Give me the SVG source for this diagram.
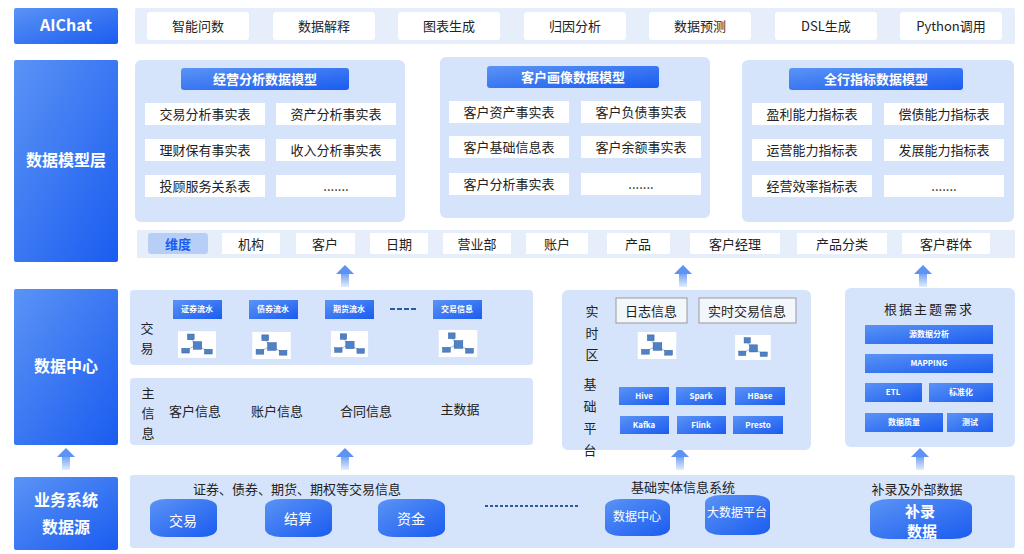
<svg xmlns="http://www.w3.org/2000/svg" xmlns:xlink="http://www.w3.org/1999/xlink" width="1024" height="554" viewBox="0 0 1024 554">
<defs>
<linearGradient id="bg" x1="0" y1="0" x2="1" y2="1"><stop offset="0" stop-color="#5b93f5"/><stop offset="1" stop-color="#1a5cf0"/></linearGradient>
<linearGradient id="ar" x1="0" y1="1" x2="0" y2="0"><stop offset="0" stop-color="#e3edfc"/><stop offset="1" stop-color="#6f9ef2"/></linearGradient>
<symbol id="net" viewBox="0 0 40 28">
<rect width="40" height="28" fill="#fff"/>
<g stroke="#8aa3c8" stroke-width="0.8"><line x1="13" y1="7" x2="18" y2="14"/><line x1="20" y1="14" x2="9" y2="20"/><line x1="22" y1="16" x2="31" y2="21"/></g>
<g fill="#4f81c7" stroke="#2e5f9f" stroke-width="0.5"><rect x="10" y="3" width="7" height="6"/><rect x="16" y="11" width="9" height="8"/><rect x="4" y="18" width="8" height="5"/><rect x="28" y="19" width="8" height="5"/></g>
</symbol>
<g id="arrow"><rect x="-4" y="8" width="8" height="14" fill="url(#ar)"/><polygon points="-9,9 0,0 9,9" fill="#5f93f3"/></g>
</defs>
<style>
.t{font-family:"Noto Sans CJK SC","Liberation Sans",sans-serif;}
.side{fill:url(#bg);}
.sideT{fill:#fff;font-size:16px;font-weight:bold;text-anchor:middle;}
.panel{fill:#d6e4fb;}
.outer{fill:#e6eefc;}
.wchip{fill:#fff;}
.wT{fill:#222;font-size:13px;text-anchor:middle;}
.bchip{fill:url(#bg);}
.bT{fill:#fff;font-size:8px;font-weight:bold;text-anchor:middle;}
.hT{fill:#fff;font-size:13px;font-weight:bold;text-anchor:middle;}
.dT{fill:#222;font-size:13px;text-anchor:middle;}
.cyl{fill:url(#bg);}
</style>
<rect width="1024" height="554" fill="#fff"/>

<g id="aichat"><rect class="side" x="14" y="8" width="104" height="36" rx="2"/><text class="t sideT" x="66" y="31">AIChat</text></g>
<g id="model-layer"><rect class="side" x="14" y="60" width="104" height="202" rx="2"/><text class="t sideT" x="66" y="166">数据模型层</text></g>
<g id="data-center"><rect class="side" x="14" y="289" width="104" height="156" rx="2"/><text class="t sideT" x="66" y="372">数据中心</text></g>
<g id="source"><rect class="side" x="14" y="477" width="104" height="73" rx="2"/><text class="t sideT" x="66" y="506">业务系统</text><text class="t sideT" x="66" y="533">数据源</text></g>

<g id="top-bar">
<rect class="outer" x="135" y="8" width="880" height="36" rx="2"/>
<g class="t">
<rect class="wchip" x="147" y="12" width="102" height="28" rx="3"/><text class="wT" x="198" y="31">智能问数</text>
<rect class="wchip" x="273" y="12" width="102" height="28" rx="3"/><text class="wT" x="324" y="31">数据解释</text>
<rect class="wchip" x="398" y="12" width="102" height="28" rx="3"/><text class="wT" x="449" y="31">图表生成</text>
<rect class="wchip" x="524" y="12" width="102" height="28" rx="3"/><text class="wT" x="575" y="31">归因分析</text>
<rect class="wchip" x="649" y="12" width="102" height="28" rx="3"/><text class="wT" x="700" y="31">数据预测</text>
<rect class="wchip" x="775" y="12" width="102" height="28" rx="3"/><text class="wT" x="826" y="31">DSL生成</text>
<rect class="wchip" x="900" y="12" width="102" height="28" rx="3"/><text class="wT" x="951" y="31">Python调用</text>
</g></g>

<g id="model1" class="t">
<rect class="panel" x="135" y="60" width="270" height="162" rx="6"/>
<rect class="bchip" x="181" y="68" width="168" height="22" rx="3"/><text class="hT" x="265" y="84">经营分析数据模型</text>
<rect class="wchip" x="145" y="103" width="120" height="22"/><text class="wT" x="205" y="119">交易分析事实表</text>
<rect class="wchip" x="276" y="103" width="120" height="22"/><text class="wT" x="336" y="119">资产分析事实表</text>
<rect class="wchip" x="145" y="139" width="120" height="22"/><text class="wT" x="205" y="155">理财保有事实表</text>
<rect class="wchip" x="276" y="139" width="120" height="22"/><text class="wT" x="336" y="155">收入分析事实表</text>
<rect class="wchip" x="145" y="175" width="120" height="22"/><text class="wT" x="205" y="191">投顾服务关系表</text>
<rect class="wchip" x="276" y="175" width="120" height="22"/><text class="wT" x="336" y="191">.......</text>
</g>
<g id="model2" class="t">
<rect class="panel" x="440" y="57" width="270" height="161" rx="6"/>
<rect class="bchip" x="487" y="66" width="172" height="22" rx="3"/><text class="hT" x="573" y="82">客户画像数据模型</text>
<rect class="wchip" x="449" y="101" width="120" height="22"/><text class="wT" x="509" y="117">客户资产事实表</text>
<rect class="wchip" x="581" y="101" width="120" height="22"/><text class="wT" x="641" y="117">客户负债事实表</text>
<rect class="wchip" x="449" y="136" width="120" height="22"/><text class="wT" x="509" y="152">客户基础信息表</text>
<rect class="wchip" x="581" y="136" width="120" height="22"/><text class="wT" x="641" y="152">客户余额事实表</text>
<rect class="wchip" x="449" y="173" width="120" height="22"/><text class="wT" x="509" y="189">客户分析事实表</text>
<rect class="wchip" x="581" y="173" width="120" height="22"/><text class="wT" x="641" y="189">.......</text>
</g>
<g id="model3" class="t">
<rect class="panel" x="742" y="60" width="272" height="162" rx="6"/>
<rect class="bchip" x="789" y="68" width="174" height="22" rx="3"/><text class="hT" x="876" y="84">全行指标数据模型</text>
<rect class="wchip" x="752" y="103" width="120" height="22"/><text class="wT" x="812" y="119">盈利能力指标表</text>
<rect class="wchip" x="884" y="103" width="120" height="22"/><text class="wT" x="944" y="119">偿债能力指标表</text>
<rect class="wchip" x="752" y="139" width="120" height="22"/><text class="wT" x="812" y="155">运营能力指标表</text>
<rect class="wchip" x="884" y="139" width="120" height="22"/><text class="wT" x="944" y="155">发展能力指标表</text>
<rect class="wchip" x="752" y="175" width="120" height="22"/><text class="wT" x="812" y="191">经营效率指标表</text>
<rect class="wchip" x="884" y="175" width="120" height="22"/><text class="wT" x="944" y="191">.......</text>
</g>

<g id="dimensions" class="t">
<rect class="outer" x="137" y="230" width="878" height="28"/>
<rect x="148" y="233" width="60" height="21" rx="3" fill="#b7cff7"/><text x="178" y="249" fill="#1a5cf0" font-size="13" font-weight="bold" text-anchor="middle">维度</text>
<rect class="wchip" x="222" y="233" width="58" height="21"/><text class="wT" x="251" y="249">机构</text>
<rect class="wchip" x="296" y="233" width="59" height="21"/><text class="wT" x="325" y="249">客户</text>
<rect class="wchip" x="370" y="233" width="58" height="21"/><text class="wT" x="399" y="249">日期</text>
<rect class="wchip" x="443" y="233" width="68" height="21"/><text class="wT" x="477" y="249">营业部</text>
<rect class="wchip" x="526" y="233" width="62" height="21"/><text class="wT" x="557" y="249">账户</text>
<rect class="wchip" x="607" y="233" width="63" height="21"/><text class="wT" x="638" y="249">产品</text>
<rect class="wchip" x="690" y="233" width="90" height="21"/><text class="wT" x="735" y="249">客户经理</text>
<rect class="wchip" x="797" y="233" width="90" height="21"/><text class="wT" x="842" y="249">产品分类</text>
<rect class="wchip" x="902" y="233" width="88" height="21"/><text class="wT" x="946" y="249">客户群体</text>
</g>

<g id="connectors">
<use href="#arrow" x="345" y="265"/><use href="#arrow" x="683" y="265"/><use href="#arrow" x="923" y="265"/>
<use href="#arrow" x="66" y="448"/><use href="#arrow" x="345" y="448"/><use href="#arrow" x="680" y="448"/><use href="#arrow" x="920" y="448"/>
</g>

<g id="trade" class="t">
<rect class="panel" x="130" y="290" width="403" height="75" rx="4"/>
<text class="dT" x="147" y="333">交</text><text class="dT" x="147" y="353">易</text>
<rect class="bchip" x="173" y="300" width="49" height="19"/><text class="bT" x="197" y="312">证券流水</text>
<rect class="bchip" x="249" y="300" width="49" height="19"/><text class="bT" x="273" y="312">债券流水</text>
<rect class="bchip" x="325" y="300" width="49" height="19"/><text class="bT" x="349" y="312">期货流水</text>
<line x1="390" y1="309" x2="418" y2="309" stroke="#2a5a9a" stroke-width="2" stroke-dasharray="5,2"/>
<rect class="bchip" x="433" y="300" width="49" height="19"/><text class="bT" x="457" y="312">交易信息</text>
<use href="#net" x="178" y="331" width="38" height="27"/>
<use href="#net" x="251" y="332" width="41" height="27"/>
<use href="#net" x="329" y="331" width="41" height="26"/>
<use href="#net" x="432" y="330" width="52" height="27"/>
</g>
<g id="master" class="t">
<rect class="panel" x="130" y="378" width="403" height="67" rx="4"/>
<text class="dT" x="148" y="398">主</text><text class="dT" x="148" y="418">信</text><text class="dT" x="148" y="438">息</text>
<text class="dT" x="195" y="416">客户信息</text><text class="dT" x="277" y="416">账户信息</text><text class="dT" x="366" y="416">合同信息</text><text class="dT" x="460" y="414">主数据</text>
</g>
<g id="realtime" class="t">
<rect class="panel" x="562" y="290" width="249" height="160" rx="6"/>
<text class="dT" x="592" y="316">实</text><text class="dT" x="592" y="338">时</text><text class="dT" x="592" y="359">区</text>
<rect x="616" y="298" width="71" height="25" fill="#f3f6fb" stroke="#999" stroke-width="1"/><text class="dT" x="651" y="316">日志信息</text>
<rect x="699" y="298" width="97" height="25" fill="#f3f6fb" stroke="#999" stroke-width="1"/><text class="dT" x="747" y="316">实时交易信息</text>
<use href="#net" x="631" y="332" width="52" height="27"/>
<use href="#net" x="727" y="335" width="52" height="25"/>
<text class="dT" x="590" y="389">基</text><text class="dT" x="590" y="411">础</text><text class="dT" x="590" y="433">平</text><text class="dT" x="590" y="455">台</text>
<rect class="bchip" x="619" y="387" width="50" height="18"/><text class="bT" x="644" y="399">Hive</text>
<rect class="bchip" x="676" y="387" width="50" height="18"/><text class="bT" x="701" y="399">Spark</text>
<rect class="bchip" x="735" y="387" width="50" height="18"/><text class="bT" x="760" y="399">HBase</text>
<rect class="bchip" x="620" y="416" width="49" height="18"/><text class="bT" x="644" y="428">Kafka</text>
<rect class="bchip" x="677" y="416" width="49" height="18"/><text class="bT" x="701" y="428">Flink</text>
<rect class="bchip" x="733" y="416" width="50" height="18"/><text class="bT" x="758" y="428">Presto</text>
</g>
<g id="topic" class="t">
<rect class="panel" x="845" y="288" width="170" height="159" rx="6"/>
<text class="dT" x="929" y="314" letter-spacing="2">根据主题需求</text>
<rect class="bchip" x="865" y="325" width="128" height="19"/><text class="bT" x="929" y="337">源数据分析</text>
<rect class="bchip" x="865" y="354" width="128" height="19"/><text class="bT" x="929" y="366">MAPPING</text>
<rect class="bchip" x="865" y="383" width="57" height="19"/><text class="bT" x="893" y="395">ETL</text>
<rect class="bchip" x="929" y="383" width="64" height="19"/><text class="bT" x="961" y="395">标准化</text>
<rect class="bchip" x="865" y="413" width="78" height="19"/><text class="bT" x="904" y="425">数据质量</text>
<rect class="bchip" x="947" y="413" width="46" height="19"/><text class="bT" x="970" y="425">测试</text>
</g>

<g id="sources" class="t">
<rect class="panel" x="130" y="475" width="885" height="73" rx="3"/>
<text class="dT" x="297" y="494">证券、债券、期货、期权等交易信息</text>
<text class="dT" x="683" y="492">基础实体信息系统</text>
<text class="dT" x="917" y="494">补录及外部数据</text>
<g>
<rect class="cyl" x="150" y="499" width="67" height="38" rx="16" ry="8"/><text x="183" y="526" fill="#fff" font-size="14" text-anchor="middle">交易</text>
<rect class="cyl" x="265" y="499" width="67" height="38" rx="16" ry="8"/><text x="298" y="524" fill="#fff" font-size="14" text-anchor="middle">结算</text>
<rect class="cyl" x="378" y="499" width="67" height="38" rx="16" ry="8"/><text x="411" y="524" fill="#fff" font-size="14" text-anchor="middle">资金</text>
<line x1="485" y1="506" x2="580" y2="506" stroke="#2a5a9a" stroke-width="2" stroke-dasharray="3,2"/>
<rect class="cyl" x="605" y="499" width="65" height="37" rx="16" ry="8"/><text x="637" y="521" fill="#fff" font-size="12" text-anchor="middle">数据中心</text>
<rect class="cyl" x="705" y="495" width="65" height="40" rx="16" ry="8"/><text x="737" y="517" fill="#fff" font-size="12" text-anchor="middle">大数据平台</text>
<rect class="cyl" x="870" y="499" width="102" height="40" rx="20" ry="8"/><text x="920" y="517" fill="#fff" font-size="15" font-weight="bold" text-anchor="middle">补录</text><text x="922" y="537" fill="#fff" font-size="15" font-weight="bold" text-anchor="middle">数据</text>
</g>
</g>
</svg>
